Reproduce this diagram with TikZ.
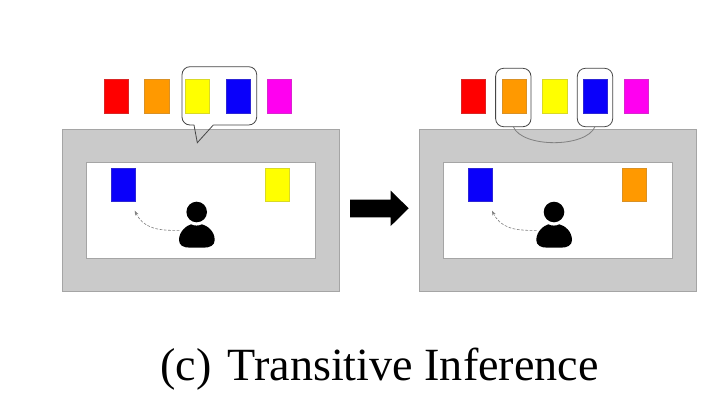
\documentclass[tikz,border=0pt]{standalone}
\usepackage{fontspec}
\setmainfont{Liberation Serif}
\usetikzlibrary{arrows.meta}
\definecolor{wallgray}{RGB}{202,202,202}
\definecolor{wallline}{RGB}{165,165,165}
\definecolor{cardorange}{RGB}{255,153,0}
\definecolor{cardblue}{RGB}{10,0,250}
\definecolor{cardyellow}{RGB}{255,255,0}
\definecolor{cardmagenta}{RGB}{255,0,240}
\definecolor{cardred}{RGB}{255,0,0}
\definecolor{bubbleline}{RGB}{70,70,70}
\tikzset{
  outerwall/.style={draw=wallline,fill=wallgray,line width=0.6pt,minimum width=208pt,minimum height=121.5pt,inner sep=0pt,outer sep=0pt},
  innerroom/.style={draw=wallline,fill=white,line width=0.8pt,minimum width=172pt,minimum height=72pt,inner sep=0pt,outer sep=0pt},
  card/.style={draw=#1!70!gray,fill=#1,line width=0.5pt,minimum width=18.2pt,minimum height=25pt,inner sep=0pt,outer sep=0pt},
  focusbox/.style={draw=bubbleline,rounded corners=6pt,line width=0.6pt,minimum width=26.5pt,minimum height=43.8pt,inner sep=0pt,outer sep=0pt},
  bubble/.style={draw=bubbleline,line width=0.6pt,rounded corners=6pt},
  gaze/.style={draw=gray,dash pattern=on 2pt off 1.2pt,line width=0.45pt,-{Stealth[length=3.5pt,width=2.6pt]}},
  link/.style={draw=gray,line width=0.6pt},
  bigarrow/.style={draw=none,fill=black},
  caption/.style={font=\fontsize{34.6}{38}\selectfont,inner sep=0pt,anchor=base}
}
\begin{document}
\begin{tikzpicture}[x=0.75pt,y=-0.75pt]
\useasboundingbox (0,0) rectangle (711,400);
\fill[white] (0,0) rectangle (711,400);
% left panel
\node[outerwall] (wallL) at (201,210.7) {};
\node[innerroom] (roomL) at (200.7,210.3) {};
\node[card=cardred] (l1) at (116.2,96.3) {};
\node[card=cardorange] (l2) at (156.8,96.3) {};
\node[card=cardyellow] (l3) at (197.5,96.3) {};
\node[card=cardblue] (l4) at (238.5,96.3) {};
\node[card=cardmagenta] (l5) at (279.2,96.3) {};
\node[card=cardblue] (lb) at (123.5,184.7) {};
\node[card=cardyellow] (ly) at (277.5,185) {};
\draw[bubble] (194,125) -- (182,125) -- (182,66.7) -- (256.7,66.7) -- (256.7,125) -- (213.3,125);
\draw[bubble,rounded corners=0pt] (194,125) -- (197.3,142.7) -- (213.3,125);
% person left
\fill[black] (196.7,212) circle[radius=10.3];
\fill[black] (179,240) .. controls (179,231) and (187,225.5) .. (191,224.3) .. controls (194,226) and (199,226) .. (202,224.3) .. controls (207,225.5) and (214.7,231) .. (214.7,240) .. controls (214.7,245.5) and (210,247.7) .. (203,247.7) -- (190.5,247.7) .. controls (183.5,247.7) and (179,245.5) .. (179,240) -- cycle;
\coordinate (pl) at (179.3,230.3);
\coordinate (tl) at (134.7,210.7);
\draw[gaze] (pl) .. controls (155,231) and (143,227) .. (tl);
% arrow between panels
\fill[bigarrow] (350,199.7) -- (390.7,199.7) -- (390.7,190.7) -- (408.7,208.3) -- (390.7,226) -- (390.7,217.3) -- (350,217.3) -- cycle;
% right panel
\node[outerwall] (wallR) at (557.7,210.7) {};
\node[innerroom] (roomR) at (557.8,210.3) {};
\node[card=cardred] (r1) at (473.5,96.3) {};
\node[card=cardorange] (r2) at (514,96.3) {};
\node[card=cardyellow] (r3) at (554.7,96.3) {};
\node[card=cardblue] (r4) at (595.5,96.3) {};
\node[card=cardmagenta] (r5) at (636.3,96.3) {};
\node[card=cardblue] (rb) at (480.5,184.7) {};
\node[card=cardorange] (ro) at (634.5,185) {};
\node[focusbox] (f2) at (513.3,97.5) {};
\node[focusbox] (f4) at (595,97.5) {};
\fill[black] (554,212) circle[radius=10.3];
\fill[black] (536.3,240) .. controls (536.3,231) and (544.3,225.5) .. (548.3,224.3) .. controls (551.3,226) and (556.3,226) .. (559.3,224.3) .. controls (564.3,225.5) and (572,231) .. (572,240) .. controls (572,245.5) and (567.3,247.7) .. (560.3,247.7) -- (547.8,247.7) .. controls (540.8,247.7) and (536.3,245.5) .. (536.3,240) -- cycle;
\coordinate (pr) at (536.6,230.3);
\coordinate (tr) at (492,210.7);
\draw[gaze] (pr) .. controls (512.3,231) and (500.3,227) .. (tr);
\draw[link] (f2.south) .. controls (522,148) and (586,148) .. (f4.south);
% caption
\node[caption] (cap) at (379.5,380) {(c)\hspace{0.1em} Transitive Inference};
\end{tikzpicture}
\end{document}
